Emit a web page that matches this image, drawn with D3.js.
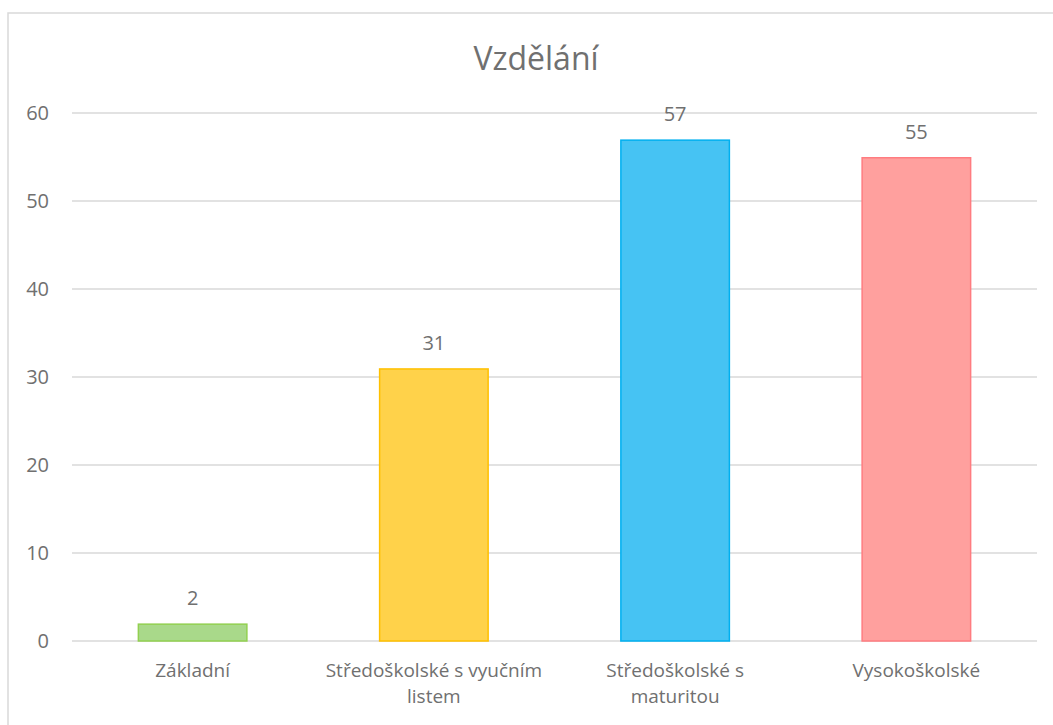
<!DOCTYPE html>
<html>
<head>
<meta charset="utf-8">
<script src="https://cdn.jsdelivr.net/npm/d3@7"></script>
<style>
  body { margin: 0; background: #fff; }
  svg text { font-family: "Open Sans", sans-serif; fill: #707070; }
</style>
</head>
<body>
<div id="vis"></div>
<script>
// data
let categories = ["Základní", "Středoškolské s vyučním listem", "Středoškolské s maturitou", "Vysokoškolské"];
let categoryLines = [["Základní"], ["Středoškolské s vyučním", "listem"], ["Středoškolské s", "maturitou"], ["Vysokoškolské"]];
let values = [2, 31, 57, 55];
let fills = ["#a9d98a", "#ffd24a", "#46c3f3", "#ffa09e"];
let strokes = ["#92d050", "#ffc000", "#00b0f0", "#ff7c80"];
let yTicks = [0, 10, 20, 30, 40, 50, 60];

let W = 1053, H = 725;
let margin = { top: 113, left: 72, right: 16, bottom: 84 };
let width = W - margin.left - margin.right,
  height = H - margin.top - margin.bottom;

let svg = d3.select('#vis')
  .append('svg')
  .attr('width', W)
  .attr('height', H);

// chart frame (runs off the right and bottom edge)
svg.append('rect')
  .attr('x', 8).attr('y', 13)
  .attr('width', 1100).attr('height', 800)
  .attr('fill', 'none')
  .attr('stroke', '#d9d9d9')
  .attr('stroke-width', 1.5);

svg.append('text')
  .attr('x', 536).attr('y', 70)
  .attr('text-anchor', 'middle')
  .style('font-size', '32px')
  .text('Vzdělání');

let g = svg.append('g').attr('transform', `translate(${margin.left},${margin.top})`);

let x = d3.scaleBand()
  .domain(categories)
  .range([0, width])
  .paddingInner(0.544)
  .paddingOuter(0.272);

let y = d3.scaleLinear()
  .domain([0, 60])
  .range([height, 0]);

// gridlines
g.append('g')
  .selectAll('line')
  .data(yTicks)
  .enter().append('line')
  .attr('x1', 0).attr('x2', width)
  .attr('y1', d => y(d)).attr('y2', d => y(d))
  .attr('stroke', '#d9d9d9')
  .attr('stroke-width', 1.5);

// y labels
g.append('g')
  .selectAll('text')
  .data(yTicks)
  .enter().append('text')
  .attr('x', -23)
  .attr('y', d => y(d))
  .attr('dy', '0.35em')
  .attr('text-anchor', 'end')
  .style('font-size', '20px')
  .text(d => d);

// bars
g.append('g')
  .selectAll('rect')
  .data(values)
  .enter().append('rect')
  .attr('x', (d, i) => x(categories[i]) + 0.75)
  .attr('y', d => y(d) + 0.75)
  .attr('width', x.bandwidth() - 1.5)
  .attr('height', d => y(0) - y(d) - 0.75)
  .attr('fill', (d, i) => fills[i])
  .attr('stroke', (d, i) => strokes[i])
  .attr('stroke-width', 1.5);

// value labels
g.append('g')
  .selectAll('text')
  .data(values)
  .enter().append('text')
  .attr('x', (d, i) => x(categories[i]) + x.bandwidth() / 2)
  .attr('y', d => y(d) - 18)
  .attr('text-anchor', 'middle')
  .style('font-size', '20px')
  .text(d => d);

// category labels, one text per line
let catG = g.append('g')
  .selectAll('g')
  .data(categories)
  .enter().append('g')
  .attr('transform', d => `translate(${x(d) + x.bandwidth() / 2},${height + 36})`);

catG.selectAll('text')
  .data((d, i) => categoryLines[i])
  .enter().append('text')
  .attr('y', (d, i) => i * 26)
  .attr('text-anchor', 'middle')
  .style('font-size', '19px')
  .text(d => d);
</script>
</body>
</html>
